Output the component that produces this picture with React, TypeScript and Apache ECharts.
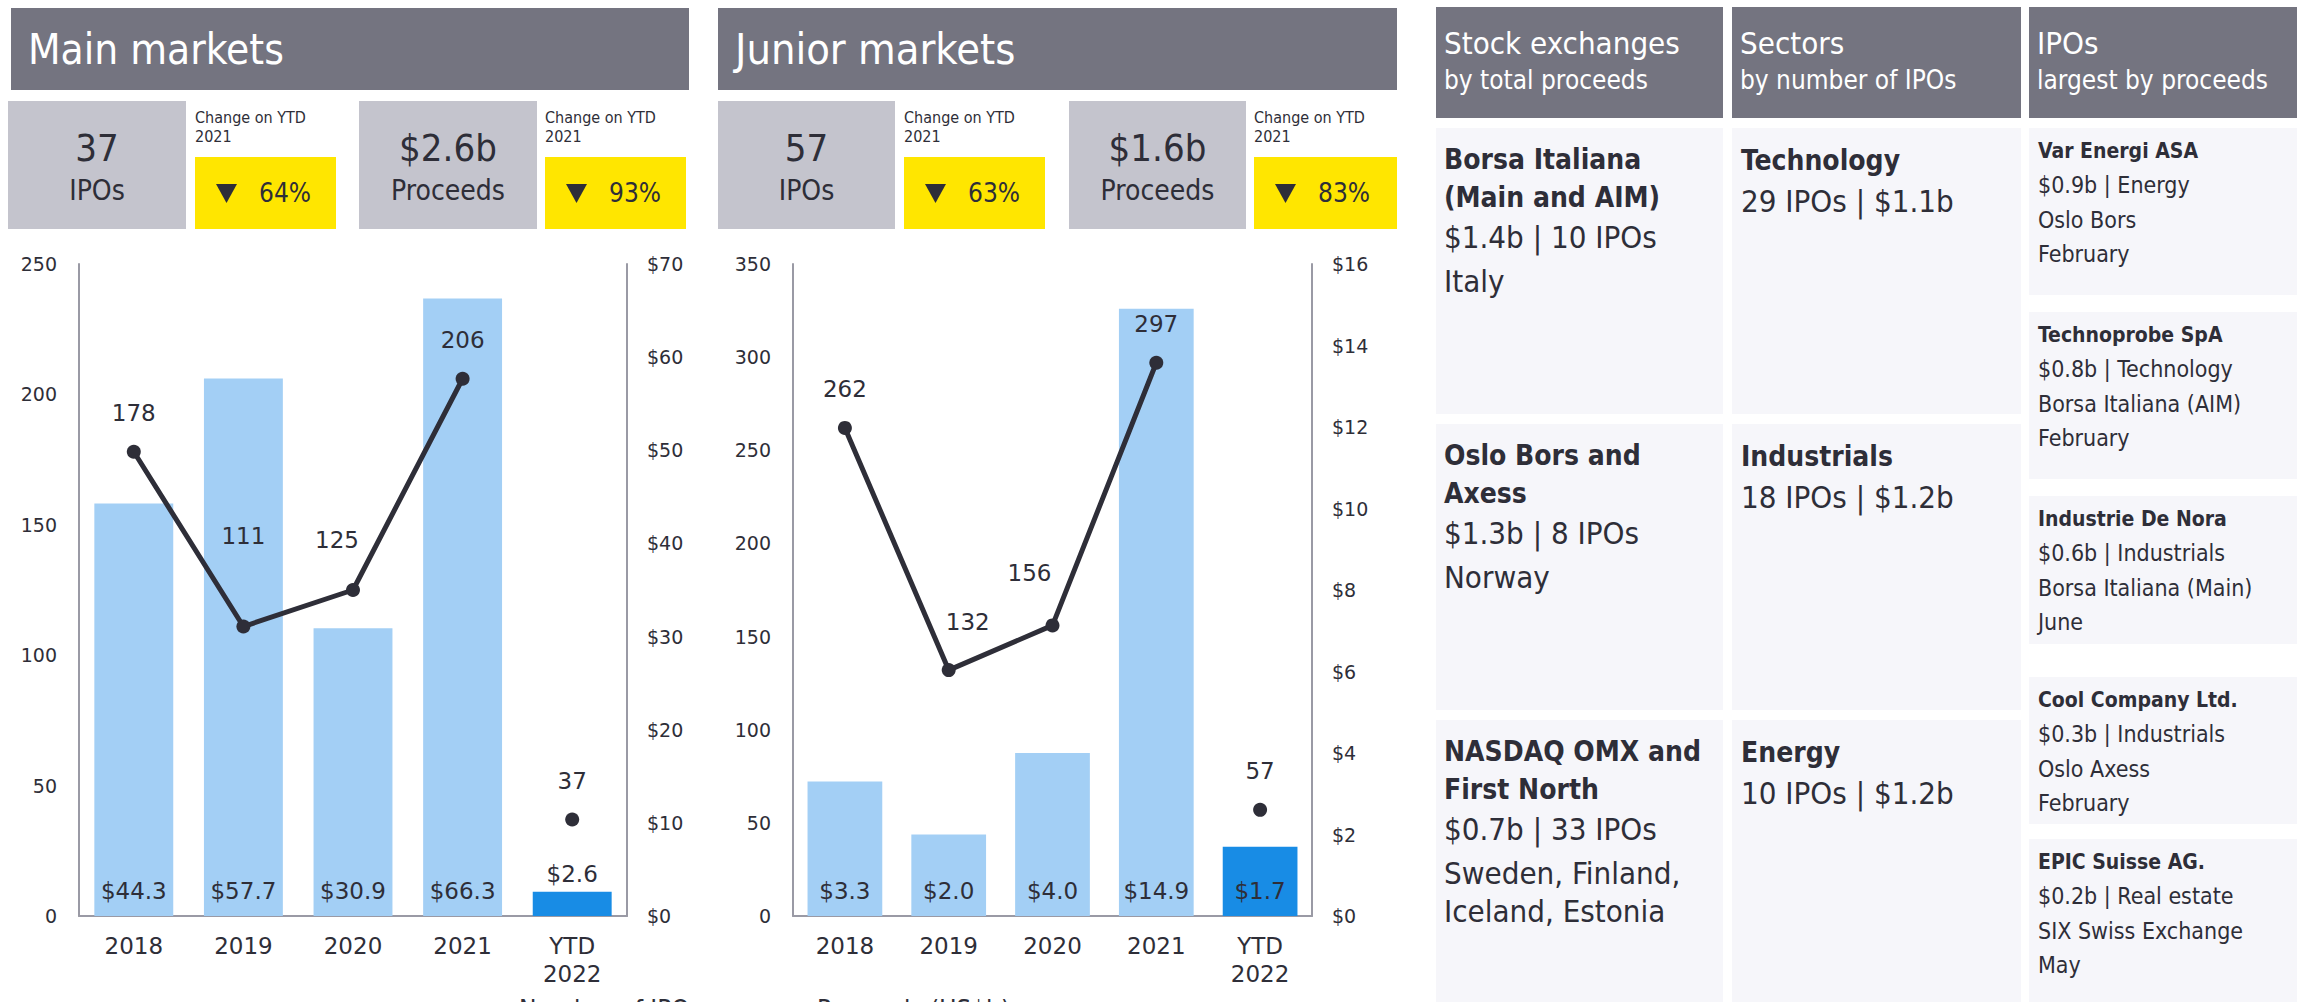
import React, { useEffect, useRef } from "react";
import * as echarts from "echarts";

const W = 2297;
const H = 1002;

// ---------- data ----------
const categories = ["2018", "2019", "2020", "2021", "YTD\n2022"];
const mainProceeds = [44.3, 57.7, 30.9, 66.3, 2.6];
const mainIpos = [178, 111, 125, 206, 37];
const juniorProceeds = [3.3, 2.0, 4.0, 14.9, 1.7];
const juniorIpos = [262, 132, 156, 297, 57];

const mainIpoAxis = { max: 250, interval: 50 };
const mainProceedsAxis = { max: 70, interval: 10 };
const juniorIpoAxis = { max: 350, interval: 50 };
const juniorProceedsAxis = { max: 16, interval: 2 };

const mainStats = ["37", "IPOs", "64%", "$2.6b", "Proceeds", "93%"];
const juniorStats = ["57", "IPOs", "63%", "$1.6b", "Proceeds", "83%"];

const exchangeBoxes = [
  { bold: ["Borsa Italiana", "(Main and AIM)"], regular: ["$1.4b | 10 IPOs", "Italy"] },
  { bold: ["Oslo Bors and", "Axess"], regular: ["$1.3b | 8 IPOs", "Norway"] },
  { bold: ["NASDAQ OMX and", "First North"], regular: ["$0.7b | 33 IPOs", "Sweden, Finland,\nIceland, Estonia"] },
];
const sectorBoxes = [
  { bold: "Technology", regular: "29 IPOs | $1.1b" },
  { bold: "Industrials", regular: "18 IPOs | $1.2b" },
  { bold: "Energy", regular: "10 IPOs | $1.2b" },
];
const ipoBoxes = [
  ["Var Energi ASA", "$0.9b | Energy", "Oslo Bors", "February"],
  ["Technoprobe SpA", "$0.8b | Technology", "Borsa Italiana (AIM)", "February"],
  ["Industrie De Nora", "$0.6b | Industrials", "Borsa Italiana (Main)", "June"],
  ["Cool Company Ltd.", "$0.3b | Industrials", "Oslo Axess", "February"],
  ["EPIC Suisse AG.", "$0.2b | Real estate", "SIX Swiss Exchange", "May"],
];
const headers = [
  ["Stock exchanges", "by total proceeds"],
  ["Sectors", "by number of IPOs"],
  ["IPOs", "largest by proceeds"],
];

// ---------- styles ----------
const NARROW = '"Liberation Sans Narrow", "DejaVu Sans Condensed", Roboto, sans-serif';
const CHARTFONT = '"DejaVu Sans", Verdana, sans-serif';
const DARK_GRAY = "#747480";
const LIGHT_GRAY = "#c4c4cd";
const YELLOW = "#ffe600";
const TEXT = "#2e2e38";
const PANEL = "#f6f6fa";
const BAR_LIGHT = "#a3cff5";
const BAR_DARK = "#188ce5";
const AXIS = "#9a9aa5";

const mainLabelOffsets = [[0, 0], [0, -52], [-16, -12], [0, 0], [0, 0]];
const juniorLabelOffsets = [[0, 0], [19, -10], [-23, -14], [0, 0], [0, 0]];

function txt(x: number, y: number, text: string, size: number, opts: any = {}) {
  return {
    type: "text",
    x,
    y,
    silent: true,
    style: {
      text,
      fill: opts.fill || TEXT,
      fontSize: size,
      fontFamily: opts.family || NARROW,
      fontWeight: opts.weight || "normal",
      align: opts.align || "left",
      verticalAlign: "middle",
      lineHeight: opts.lineHeight,
    },
  };
}
function rect(x: number, y: number, w: number, h: number, fill: string) {
  return { type: "rect", silent: true, shape: { x, y, width: w, height: h }, style: { fill } };
}

function statSection(title: string, stats: string[], geo: any) {
  const els: any[] = [];
  els.push(rect(geo.bar[0], 8, geo.bar[1], 82, DARK_GRAY));
  els.push(txt(geo.bar[0] + 17, 49, title, geo.titleSize, { fill: "#ffffff" }));
  const pairs = [
    [geo.g1, geo.y1, stats[0], stats[1], stats[2]],
    [geo.g2, geo.y2, stats[3], stats[4], stats[5]],
  ];
  pairs.forEach(([g, y, big, small, pct]: any) => {
    els.push(rect(g[0], 101, g[1], 128, LIGHT_GRAY));
    const cx = g[0] + g[1] / 2;
    els.push(txt(cx, 148, big, 38, { align: "center" }));
    els.push(txt(cx, 190, small, 28, { align: "center" }));
    els.push(txt(y[0], 117, "Change on YTD", 16));
    els.push(txt(y[0], 136, "2021", 16));
    els.push(rect(y[0], 157, y[1], 72, YELLOW));
    const tx = y[0] + 21;
    els.push({
      type: "polygon",
      silent: true,
      shape: { points: [[tx, 184], [tx + 21, 184], [tx + 10.5, 203]] },
      style: { fill: TEXT },
    });
    els.push(txt(y[0] + 90, 193, pct, 26, { align: "center" }));
  });
  return els;
}

function rightPanel() {
  const els: any[] = [];
  const cols = [
    [1436, 287],
    [1732, 289],
    [2029, 268],
  ];
  headers.forEach((h, i) => {
    els.push(rect(cols[i][0], 7, cols[i][1], 111, DARK_GRAY));
    els.push(txt(cols[i][0] + 8, 43, h[0], 31, { fill: "#ffffff" }));
    els.push(txt(cols[i][0] + 8, 80, h[1], 26, { fill: "#ffffff" }));
  });
  const rows = [
    [128, 286],
    [424, 286],
    [720, 282],
  ];
  exchangeBoxes.forEach((b, i) => {
    const top = rows[i][0];
    els.push(rect(cols[0][0], top, cols[0][1], rows[i][1], PANEL));
    let y = top + 31;
    b.bold.forEach((t) => {
      els.push(txt(cols[0][0] + 8, y, t, 28, { weight: "bold" }));
      y += 38;
    });
    y += 2;
    b.regular.forEach((t) => {
      const multi = t.indexOf("\n") >= 0;
      els.push(txt(cols[0][0] + 8, multi ? y + 19 : y, t, 31, { lineHeight: 38 }));
      y += 44;
    });
  });
  sectorBoxes.forEach((b, i) => {
    const top = rows[i][0];
    els.push(rect(cols[1][0], top, cols[1][1], rows[i][1], PANEL));
    els.push(txt(cols[1][0] + 9, top + 32, b.bold, 28, { weight: "bold" }));
    els.push(txt(cols[1][0] + 9, top + 73, b.regular, 31));
  });
  const ipoRows = [
    [128, 167],
    [312, 167],
    [496, 148],
    [677, 147],
    [839, 163],
  ];
  ipoBoxes.forEach((lines, i) => {
    const top = ipoRows[i][0];
    els.push(rect(cols[2][0], top, cols[2][1], ipoRows[i][1], PANEL));
    lines.forEach((t, k) => {
      els.push(
        txt(cols[2][0] + 9, top + 23 + k * 34.3, t, k === 0 ? 21 : 23, { weight: k === 0 ? "bold" : "normal" })
      );
    });
  });
  return els;
}

function chartParts(idx: number, proceeds: number[], ipos: number[], ipoAxis: any, procAxis: any, offsets: number[][]) {
  const last = categories.length - 1;
  const xAxis = {
    type: "category",
    gridIndex: idx,
    data: categories,
    axisLine: { lineStyle: { color: AXIS, width: 2 } },
    axisTick: { show: false },
    axisLabel: { fontSize: 23, color: TEXT, fontFamily: CHARTFONT, margin: 16, lineHeight: 28, interval: 0 },
  };
  const yAxes = [
    {
      type: "value",
      gridIndex: idx,
      min: 0,
      max: ipoAxis.max,
      interval: ipoAxis.interval,
      axisLine: { show: true, lineStyle: { color: AXIS, width: 2 } },
      axisTick: { show: false },
      splitLine: { show: false },
      axisLabel: { fontSize: 19, color: TEXT, fontFamily: CHARTFONT, margin: 22 },
    },
    {
      type: "value",
      gridIndex: idx,
      position: "right",
      min: 0,
      max: procAxis.max,
      interval: procAxis.interval,
      axisLine: { show: true, lineStyle: { color: AXIS, width: 2 } },
      axisTick: { show: false },
      splitLine: { show: false },
      axisLabel: { fontSize: 19, color: TEXT, fontFamily: CHARTFONT, margin: 20, formatter: (v: number) => "$" + v },
    },
  ];
  const barData = proceeds.map((v, i) => {
    const short = v / procAxis.max < 0.06;
    return {
      value: v,
      itemStyle: { color: i === last ? BAR_DARK : BAR_LIGHT },
      label: short ? { position: "top", distance: 6 } : undefined,
    };
  });
  const lineBase = {
    name: "Number of IPOs",
    type: "line",
    xAxisIndex: idx,
    yAxisIndex: idx * 2,
    symbol: "circle",
    symbolSize: 14,
    itemStyle: { color: TEXT },
    lineStyle: { color: TEXT, width: 5 },
    label: { show: true, position: "top", distance: 20, fontSize: 23, color: TEXT, fontFamily: CHARTFONT },
    z: 5,
  };
  const series = [
    {
      name: "Proceeds (US$b)",
      type: "bar",
      xAxisIndex: idx,
      yAxisIndex: idx * 2 + 1,
      barWidth: "72%",
      itemStyle: { color: BAR_DARK },
      data: barData,
      label: {
        show: true,
        position: "insideBottom",
        distance: 14,
        fontSize: 23,
        color: TEXT,
        fontFamily: CHARTFONT,
        formatter: (p: any) => "$" + Number(p.value).toFixed(1),
      },
    },
    {
      ...lineBase,
      data: ipos.map((v, i) => (i < last ? { value: v, label: { offset: offsets[i] } } : "-")),
    },
    {
      ...lineBase,
      data: ipos.map((v, i) => (i === last ? { value: v, label: { offset: offsets[i] } } : "-")),
    },
  ];
  return { xAxis, yAxes, series };
}

export default function App() {
  const ref = useRef<HTMLDivElement>(null);
  useEffect(() => {
    if (!ref.current) return;
    const chart = echarts.init(ref.current, null, { renderer: "svg", width: W, height: H });
    const m = chartParts(0, mainProceeds, mainIpos, mainIpoAxis, mainProceedsAxis, mainLabelOffsets);
    const j = chartParts(1, juniorProceeds, juniorIpos, juniorIpoAxis, juniorProceedsAxis, juniorLabelOffsets);
    const graphics = [
      ...statSection("Main markets", mainStats, {
        bar: [11, 678],
        titleSize: 42,
        g1: [8, 178],
        y1: [195, 141],
        g2: [359, 178],
        y2: [545, 141],
      }),
      ...statSection("Junior markets", juniorStats, {
        bar: [718, 679],
        titleSize: 43,
        g1: [718, 177],
        y1: [904, 141],
        g2: [1069, 177],
        y2: [1254, 143],
      }),
      ...rightPanel(),
    ];
    chart.setOption({
      animation: false,
      backgroundColor: "#ffffff",
      grid: [
        { left: 79, top: 264, width: 548, height: 652, containLabel: false },
        { left: 793, top: 264, width: 519, height: 652, containLabel: false },
      ],
      xAxis: [m.xAxis, j.xAxis],
      yAxis: [...m.yAxes, ...j.yAxes],
      series: [...m.series, ...j.series],
      legend: {
        data: ["Number of IPOs", "Proceeds (US$b)"],
        left: 448,
        top: 992,
        itemWidth: 60,
        itemHeight: 14,
        itemGap: 50,
        textStyle: { fontSize: 26, color: TEXT, fontFamily: NARROW },
        selectedMode: false,
      },
      graphic: { elements: graphics },
    });
    return () => chart.dispose();
  }, []);
  return (
    <div
      ref={ref}
      style={{ position: "fixed", left: 0, top: 0, width: W, height: H, background: "#ffffff", overflow: "hidden" }}
    />
  );
}
